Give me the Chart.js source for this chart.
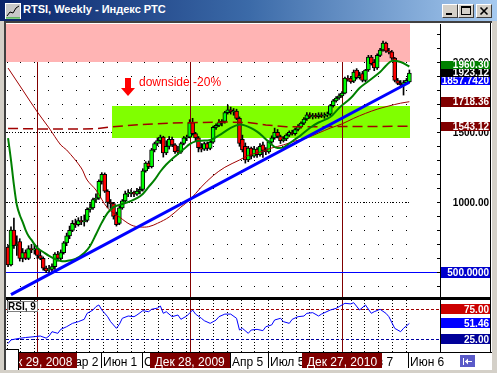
<!DOCTYPE html>
<html>
<head>
<meta charset="utf-8">
<title>RTSI, Weekly</title>
<script src="https://cdn.jsdelivr.net/npm/chart.js@4.4.1/dist/chart.umd.min.js"></script>
<style>
  html, body { margin: 0; padding: 0; }
  body { width: 497px; height: 373px; background: #d4d0c8; position: relative; overflow: hidden; }
  #titlebar { position: absolute; left: 0; top: 0; width: 497px; height: 21px;
    background: linear-gradient(to right, #0a246a 0%, #3b6aa8 50%, #a6caf0 100%); }
  #caption { position: absolute; left: 23px; top: 3px; color: #fff; white-space: nowrap;
    font: bold 11px "Liberation Sans", Arial, sans-serif; }
  #icon { position: absolute; left: 5px; top: 3px; }
  .btn { position: absolute; top: 4px; width: 16px; height: 14px; box-sizing: border-box; background: #d4d0c8;
    border: 1px solid; border-color: #fff #404040 #404040 #fff; }
  .btn svg { position: absolute; left: 0; top: 0; }
  #client { position: absolute; left: 4px; top: 21px; width: 488px; height: 349px; background: #fff;
    box-sizing: border-box; border-top: 2px solid #404040; border-left: 2px solid #404040; }
  canvas { position: absolute; }
  #main { left: 6px; top: 24px; }
  #rsi { left: 6px; top: 300px; }
  #sep { position: absolute; left: 6px; top: 297px; width: 485px; height: 3px; background: #000; }
  #rightline { position: absolute; left: 490px; top: 23px; width: 1px; height: 330px; background: #000; }
  #corner { position: absolute; left: 6px; top: 349px; width: 13px; height: 21px; background: #fff;
    box-sizing: border-box; border-top: 1px solid #000; border-right: 1px solid #000; }
</style>
</head>
<body>
<div id="titlebar">
  <svg id="icon" width="16" height="16"><rect x="0.5" y="0.5" width="15" height="15" fill="#c8c8c8" stroke="#fff"/>
    <polyline points="2,13 5,9 8,10 11,5 14,3" fill="none" stroke="#000" stroke-width="1"/>
    <line x1="1" y1="15" x2="15" y2="15" stroke="#00a000"/></svg>
  <div id="caption">RTSI, Weekly - Индекс РТС</div>
  <div class="btn" style="left:442px"><svg width="14" height="12"><rect x="3" y="8" width="6" height="2" fill="#000"/></svg></div>
  <div class="btn" style="left:458px"><svg width="14" height="12"><rect x="2.5" y="1.5" width="9" height="8" fill="none" stroke="#000"/><rect x="2" y="1" width="10" height="2" fill="#000"/></svg></div>
  <div class="btn" style="left:476px"><svg width="14" height="12"><path d="M3.5 2.5 L10.5 9.5 M10.5 2.5 L3.5 9.5" stroke="#000" stroke-width="1.6"/></svg></div>
</div>
<div id="client"></div>
<canvas id="main" width="486" height="273"></canvas>
<canvas id="rsi" width="486" height="70"></canvas>
<div id="sep"></div>
<div id="rightline"></div>
<div id="corner"></div>
<script>
// weekly bars, index 0 = week of Oct 20 2008, index 137 = week of Jun 6 2011
const opens = [680,552,802,690,720,600,640,600,670,660, 670,620,600,530,515,520,540,630,600,640,
  710,760,800,850,840,870,860,870,950,960, 1020,1030,1150,1200,1080,1000,990,910,850,960,
  1010,1060,1065,1072,1058,1080,1092,1225,1281,1255, 1374,1420,1440,1466,1352,1400,1450,1410,1370,1358,
  1420,1460,1466,1570,1490,1460,1390,1380,1420,1385, 1430,1535,1550,1565,1578,1640,1660,1645,1652,1600,
  1450,1400,1302,1388,1330,1380,1340,1410,1370,1360, 1430,1460,1500,1470,1440,1452,1480,1500,1490,1520,
  1540,1565,1595,1625,1610,1620,1612,1625,1615,1622, 1630,1690,1725,1745,1760,1780,1885,1888,1865,1945,
  1890,1920,1870,1945,2038,2000,1960,2050,2088,2138, 2080,2075,2030,1870,1852,1840,1855,1860];
const highs = [695,824,888,760,740,670,660,690,700,700, 690,650,610,545,550,560,640,650,660,720,
  780,830,870,880,890,900,910,960,990,1030, 1060,1160,1212,1210,1090,1020,1000,930,980,1020,
  1080,1090,1090,1080,1100,1110,1240,1290,1295,1385, 1430,1460,1480,1472,1440,1470,1465,1420,1400,1430,
  1470,1480,1590,1600,1500,1470,1420,1430,1430,1440, 1545,1560,1590,1590,1650,1695,1680,1670,1665,1610,
  1480,1424,1400,1395,1400,1390,1420,1430,1390,1440, 1475,1530,1520,1480,1470,1490,1510,1515,1530,1555,
  1575,1605,1640,1640,1635,1635,1640,1640,1640,1645, 1700,1735,1755,1775,1790,1895,1905,1900,1945,1955,
  1930,1935,1950,2050,2050,2020,2060,2100,2152,2145, 2100,2085,2035,1885,1870,1870,1885,1945];
const lows = [540,545,670,620,580,575,590,590,640,630, 600,590,515,498,500,505,520,580,590,630,
  690,740,790,820,830,840,830,860,930,950, 1000,1020,1130,1070,960,950,880,830,840,950,
  1000,1040,1040,1040,1050,1060,1080,1215,1240,1245, 1360,1405,1420,1323,1340,1380,1400,1350,1340,1350,
  1410,1440,1460,1480,1440,1360,1360,1370,1370,1375, 1420,1520,1540,1545,1565,1630,1630,1622,1590,1400,
  1360,1280,1290,1310,1320,1320,1330,1320,1340,1350, 1420,1450,1460,1420,1430,1440,1470,1480,1480,1510,
  1530,1555,1585,1600,1595,1600,1600,1605,1600,1610, 1620,1680,1715,1735,1750,1775,1865,1850,1855,1880,
  1880,1860,1860,1935,1980,1940,1950,2040,2080,2070, 2060,2020,1860,1840,1820,1766,1845,1855];
const closes = [552,802,690,700,600,640,600,670,660,665, 620,600,530,510,520,540,630,600,640,710,
  760,800,850,840,870,860,870,950,960,1020, 1030,1150,1200,1080,1000,990,900,840,960,1010,
  1060,1065,1072,1058,1080,1092,1225,1281,1255,1374, 1420,1440,1466,1352,1400,1450,1410,1362,1358,1420,
  1460,1466,1570,1490,1460,1390,1380,1420,1385,1430, 1535,1550,1570,1578,1640,1660,1645,1652,1600,1420,
  1374,1302,1388,1330,1380,1340,1400,1370,1360,1430, 1460,1500,1470,1440,1452,1480,1500,1490,1520,1540,
  1565,1595,1625,1610,1620,1612,1625,1615,1622,1630, 1690,1725,1745,1760,1780,1888,1878,1860,1930,1890,
  1905,1870,1945,2038,1990,1960,2050,2088,2138,2080, 2072,2030,1870,1850,1838,1855,1872,1923.12];

// moving averages and lines (bar index, value)
const greenIdx = [0,1,2,3,4,5,6,7,8,10,12,14,16,18,20,23,26,28,30,32,34,36,38,40,42,44,46,48,50,52,54,56,58,60,62,64,66,69,72,76,79,81,83,85,87,89,91,92,94,96,98,100,103,106,110,113,117,120,123,127,129,131,134,137];
const greenVal = [1459,1302,1124,981,909,859,802,759,731,674,645,617,595,581,581,595,638,688,770,855,924,966,981,995,1010,1030,1060,1110,1160,1220,1270,1310,1345,1380,1415,1435,1440,1445,1478,1531,1555,1548,1530,1505,1470,1430,1395,1388,1392,1420,1450,1480,1531,1570,1609,1674,1745,1816,1865,1931,1975,2010,2002,1970];
const redIdx = [0,5,10,14,18,20,25,27,30,34,38,42,45,48,51,55,59,62,66,70,74,79,82,86,90,94,98,102,106,110,114,118,122,126,130,134,137];
const redVal = [1959,1802,1645,1531,1409,1374,1245,1159,1088,959,895,838,824,826,850,895,966,1016,1110,1190,1250,1302,1335,1359,1388,1410,1438,1460,1495,1530,1560,1600,1635,1665,1688,1708,1718.36];
const dashIdx = [0,14,30,35,45,55,65,75,82,88,95,105,115,125,137];
const dashVal = [1528,1523,1525,1538,1555,1566,1570,1573,1570,1552,1540,1540,1541,1542,1543.12];
const trendIdx = [1, 137];
const trendVal = [341, 1857.742];

// RSI(9)
const rsiIdx = [0,1,2,4,6,9,11,13,14,15,17,18,20,22,24,26,27,29,30,31,32,34,35,37,38,39,41,43,44,46,48,49,51,52,53,54,56,58,59,61,63,64,66,67,69,71,72,74,76,78,79,80,82,83,85,87,88,90,91,93,94,96,97,99,101,102,104,106,107,110,112,113,115,117,118,120,122,124,125,127,129,130,132,134,135,137];
const rsiVal = [18,24,25,26.7,28,29.4,30.5,27,30.5,37.7,35,41.6,46,51.6,54.4,58.3,68.3,73.8,79.4,82.2,74,62.7,54.4,43.3,50,60,63.8,62.7,65.5,72.7,71,75,77,80.5,68.3,71,62.7,65.5,58.3,63.8,73.8,67,60,56,51.6,57,62.7,67,67,60,40.5,43.3,35,40.5,41.6,39.4,46,49,57.2,60,54.4,51.6,58.3,62.7,63.8,68.3,69.4,63.8,67,73.8,76.6,79.4,85,84,86,73.8,82.2,68.3,71,75,68.3,62.7,43.3,37.7,43.3,51.46];
const rsiLevels = [75, 25];

// objects on the chart
const pinkZone = { from: -0.7, to: 137.3, low: 2000, high: 2400 };
const greenZone = { from: 35.5, to: 137.3, low: 1460, high: 1690 };
const hLevel = 500;
const dottedLevels = [1000, 1500];
const yearSepIdx = [10, 62, 114];
const yearSepText = ['Дек 29, 2008', 'Дек 28, 2009', 'Дек 27, 2010'];
const noteText = 'downside -20%';
const noteAt = [44.7, 1852];
const arrowAt = [41, 1760];

// axis labels (drawn in this order)
const priceLabelText = ['2000.00', '1500.00', '1000.00', '1857.7420', '1923.12', '1960.30', '1718.36', '1543.12', '500.0000'];
const priceLabelValue = [2000, 1500, 1000, 1857.742, 1923.12, 1960.30, 1718.36, 1543.12, 500];
const timeLabelIdx = [19, 32, 46, 76, 89, 102, 120, 137];
const timeLabelText = ['Мар 2', 'Июн 1', 'Сен 7', 'Апр 5', 'Июл 5', 'Окт 4', 'Фев 7', 'Июн 6'];
const rsiLabelText = ['75.00', '51.46', '25.00'];
const rsiLabelValue = [75, 51.46, 25];

const X_MIN = -0.7, X_MAX = 147.45;
const LAST = closes.length - 1;
const pts = (xs, ys) => xs.map((x, i) => ({ x: x, y: ys[i] }));
const FONT = '"Liberation Sans", Arial, sans-serif';

// label box colours, heights and small nudges for the stacked boxes
const priceBox = [null, null, null, '#0000ff', '#000000', '#008000', '#800000', '#800000', '#0000cd'];
const priceBoxH = [9, 9, 9, 8, 8, 8, 10, 9, 11];
const priceNudge = [0, 0, 0, -1, 0, -3, 0, 0, 0];
const rsiBox = ['#cc0000', '#0000ff', '#000099'];

function latticeCols(chart) {
  const a = chart.chartArea, x = chart.scales.x;
  const end = x.getPixelForValue(LAST) + 0.5, cols = [];
  for (let px = a.left + 0.7; px <= end; px += 13.76) cols.push(Math.round(px));
  return cols;
}

function drawValueBox(ctx, a, text, py, bg, h) {
  ctx.font = 'bold 10px ' + FONT;
  ctx.textAlign = 'right';
  ctx.textBaseline = 'middle';
  if (bg) {
    ctx.fillStyle = bg;
    ctx.fillRect(a.right + 1, Math.round(py - h / 2), 50, h);
    ctx.fillStyle = '#fff';
  } else {
    ctx.fillStyle = '#000';
  }
  ctx.fillText(text, a.right + 49, py + 0.5);
}

const mainPanel = {
  id: 'mainPanel',
  beforeDatasetsDraw(chart) {
    const { ctx, chartArea: a, scales: { x, y } } = chart;
    ctx.save();
    ctx.beginPath(); ctx.rect(a.left, a.top, a.right - a.left, a.bottom - a.top); ctx.clip();
    // dot lattice
    ctx.fillStyle = '#000';
    latticeCols(chart).forEach(px => {
      for (let v = 400; v <= 2200; v += 100) ctx.fillRect(px, Math.round(y.getPixelForValue(v)), 1, 1);
    });
    // dotted price levels
    const xEnd = x.getPixelForValue(pinkZone.to);
    ctx.strokeStyle = '#000'; ctx.lineWidth = 1; ctx.setLineDash([1, 2]);
    dottedLevels.forEach(v => {
      const py = Math.round(y.getPixelForValue(v)) + 0.5;
      ctx.beginPath(); ctx.moveTo(a.left, py); ctx.lineTo(xEnd, py); ctx.stroke();
    });
    ctx.setLineDash([]);
    // green zone
    ctx.fillStyle = '#80ff00';
    let x0 = x.getPixelForValue(greenZone.from), x1 = x.getPixelForValue(greenZone.to);
    let y0 = y.getPixelForValue(greenZone.high), y1 = y.getPixelForValue(greenZone.low);
    ctx.fillRect(Math.round(x0), Math.round(y0), Math.round(x1 - x0), Math.round(y1 - y0));
    // year separators
    ctx.fillStyle = '#800000';
    yearSepIdx.forEach(i => ctx.fillRect(Math.round(x.getPixelForValue(i)), a.top, 1, a.bottom - a.top));
    // pink zone
    ctx.fillStyle = '#ffb4b4';
    x0 = x.getPixelForValue(pinkZone.from); x1 = x.getPixelForValue(pinkZone.to);
    y0 = Math.max(a.top, y.getPixelForValue(pinkZone.high)); y1 = y.getPixelForValue(pinkZone.low);
    ctx.fillRect(Math.round(x0), Math.round(y0), Math.round(x1 - x0), Math.round(y1 - y0));
    // horizontal line at 500
    ctx.fillStyle = '#0000ff';
    ctx.fillRect(a.left, Math.round(y.getPixelForValue(hLevel)), a.right - a.left, 1);
    ctx.restore();
  },
  afterDatasetsDraw(chart) {
    const { ctx, scales: { x, y } } = chart;
    ctx.save();
    // red arrow pointing down
    const ax = Math.round(x.getPixelForValue(arrowAt[0])), ay = Math.round(y.getPixelForValue(arrowAt[1]));
    ctx.fillStyle = '#ff0000';
    ctx.fillRect(ax - 3, ay - 18, 6, 10);
    ctx.beginPath(); ctx.moveTo(ax - 7, ay - 8); ctx.lineTo(ax + 7, ay - 8); ctx.lineTo(ax, ay); ctx.closePath(); ctx.fill();
    // note
    ctx.font = '12px ' + FONT;
    ctx.textAlign = 'left'; ctx.textBaseline = 'middle';
    ctx.fillText(noteText, x.getPixelForValue(noteAt[0]), y.getPixelForValue(noteAt[1]));
    ctx.restore();
  },
  afterDraw(chart) {
    const { ctx, chartArea: a, scales: { y } } = chart;
    ctx.save();
    ctx.fillStyle = '#fff';
    ctx.fillRect(a.right + 1, a.top, chart.width - a.right - 1, a.bottom - a.top);
    ctx.fillStyle = '#000';
    ctx.fillRect(a.right, a.top, 1, a.bottom - a.top);
    for (let v = 400; v <= 2200; v += 100) ctx.fillRect(a.right - 3, Math.round(y.getPixelForValue(v)), 3, 1);
    priceLabelText.forEach((t, i) => {
      const py = y.getPixelForValue(priceLabelValue[i]) + priceNudge[i];
      drawValueBox(ctx, a, t, py, priceBox[i], priceBoxH[i]);
    });
    ctx.restore();
  }
};

const rsiPanel = {
  id: 'rsiPanel',
  beforeDatasetsDraw(chart) {
    const { ctx, chartArea: a, scales: { x, y } } = chart;
    ctx.save();
    ctx.strokeStyle = '#000'; ctx.lineWidth = 1; ctx.setLineDash([1, 2]);
    latticeCols(chart).forEach(px => {
      ctx.beginPath(); ctx.moveTo(px + 0.5, a.top); ctx.lineTo(px + 0.5, a.bottom); ctx.stroke();
    });
    ctx.setLineDash([3, 2]);
    ['#a00000', '#0000a0'].forEach((c, i) => {
      const py = Math.round(y.getPixelForValue(rsiLevels[i])) + 0.5;
      ctx.strokeStyle = c;
      ctx.beginPath(); ctx.moveTo(a.left, py); ctx.lineTo(a.right, py); ctx.stroke();
    });
    ctx.setLineDash([]);
    ctx.fillStyle = '#800000';
    yearSepIdx.forEach(i => ctx.fillRect(Math.round(x.getPixelForValue(i)), a.top, 1, a.bottom - a.top));
    ctx.restore();
  },
  afterDraw(chart) {
    const { ctx, chartArea: a, scales: { x, y } } = chart;
    ctx.save();
    ctx.fillStyle = '#000';
    ctx.fillRect(a.right, a.top, 1, a.bottom - a.top);
    ctx.fillRect(a.left, a.bottom - 1, chart.width, 1);
    rsiLabelText.forEach((t, i) => drawValueBox(ctx, a, t, y.getPixelForValue(rsiLabelValue[i]), rsiBox[i], 10));
    // indicator caption
    ctx.fillStyle = '#fff'; ctx.fillRect(1, 1, 31, 11);
    ctx.strokeStyle = '#808080'; ctx.strokeRect(1.5, 1.5, 30, 10);
    ctx.fillStyle = '#000'; ctx.font = 'bold 10px ' + FONT;
    ctx.textAlign = 'left'; ctx.textBaseline = 'middle';
    ctx.fillText('RSI, 9', 2, 7);
    // time axis
    const base = a.bottom + 12.5;
    ctx.font = '12px ' + FONT; ctx.textBaseline = 'alphabetic';
    timeLabelIdx.forEach((idx, i) => {
      const px = Math.round(x.getPixelForValue(idx));
      ctx.fillStyle = '#000';
      ctx.fillRect(px - 1, a.bottom, 1, 15);
      ctx.fillText(timeLabelText[i], px + 1, base);
    });
    ctx.textAlign = 'center';
    yearSepIdx.forEach((idx, i) => {
      const px = x.getPixelForValue(idx);
      const w = ctx.measureText(yearSepText[i]).width + 10;
      ctx.fillStyle = '#800000';
      ctx.fillRect(Math.round(px - w / 2), a.bottom, Math.round(w), 15);
      ctx.fillStyle = '#fff';
      ctx.fillText(yearSepText[i], px, base);
    });
    // chart shift button
    const bx = a.right + 20, by = a.bottom + 2;
    ctx.fillStyle = '#5a5ac8'; ctx.fillRect(bx, by, 15, 12);
    ctx.fillStyle = '#fff';
    ctx.fillRect(bx + 3, by + 3, 1, 7);
    ctx.fillRect(bx + 5, by + 6, 7, 1);
    ctx.beginPath(); ctx.moveTo(bx + 5, by + 6.5); ctx.lineTo(bx + 8, by + 3.5); ctx.lineTo(bx + 8, by + 9.5); ctx.closePath(); ctx.fill();
    ctx.restore();
  }
};

const baseOptions = (yMin, yMax, pad) => ({
  responsive: false, animation: false, events: [],
  layout: { padding: pad },
  plugins: { legend: { display: false }, tooltip: { enabled: false } },
  scales: {
    x: { type: 'linear', min: X_MIN, max: X_MAX, offset: false, display: false },
    y: { min: yMin, max: yMax, display: false }
  }
});

const bodies = closes.map((c, i) => ({ x: i, y: [Math.min(opens[i], c), Math.max(opens[i], c)] }));
const wicks = closes.map((c, i) => ({ x: i, y: [lows[i], highs[i]] }));
const bodyColors = closes.map((c, i) => c >= opens[i] ? '#00ff00' : '#ff0000');

new Chart(document.getElementById('main'), {
  type: 'bar',
  data: {
    datasets: [
      { type: 'line', data: pts(trendIdx, trendVal), borderColor: '#0000ff', borderWidth: 3, pointRadius: 0, order: 0 },
      { type: 'line', data: pts(greenIdx, greenVal), borderColor: '#008000', borderWidth: 2, pointRadius: 0, tension: 0.35, order: 1 },
      { type: 'line', data: pts(redIdx, redVal), borderColor: '#a00000', borderWidth: 1, pointRadius: 0, tension: 0.35, order: 2 },
      { type: 'line', data: pts(dashIdx, dashVal), borderColor: '#a00000', borderWidth: 1.5, borderDash: [10, 5], pointRadius: 0, order: 3 },
      { data: bodies, backgroundColor: bodyColors, borderColor: '#000', borderWidth: 1, borderSkipped: false,
        barThickness: 4, grouped: false, order: 4 },
      { data: wicks, backgroundColor: '#000', borderWidth: 0, barThickness: 1, grouped: false, order: 5 }
    ]
  },
  options: baseOptions(323.6, 2273.6, { left: 0, right: 52, top: 0, bottom: 0 }),
  plugins: [mainPanel]
});

new Chart(document.getElementById('rsi'), {
  type: 'line',
  data: { datasets: [{ data: pts(rsiIdx, rsiVal), borderColor: '#0000ff', borderWidth: 1, pointRadius: 0, tension: 0 }] },
  options: baseOptions(2.2, 90.5, { left: 0, right: 52, top: 0, bottom: 17 }),
  plugins: [rsiPanel]
});
</script>
</body>
</html>
